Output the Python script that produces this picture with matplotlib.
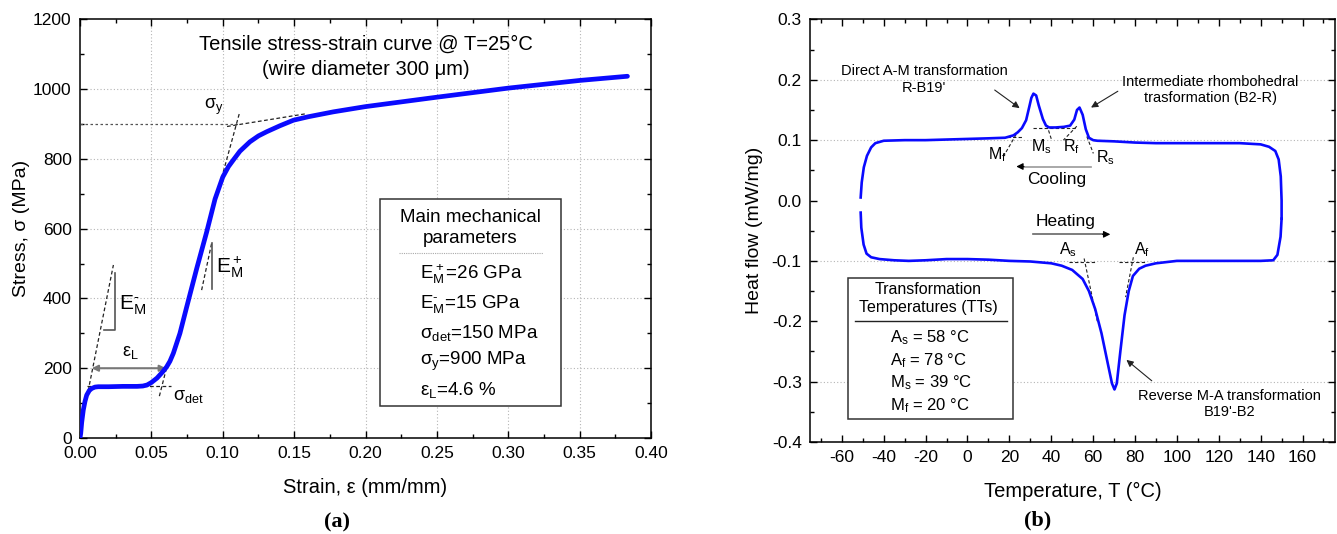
import matplotlib
matplotlib.use("Agg")
import matplotlib.pyplot as plt
from matplotlib.ticker import MultipleLocator, FuncFormatter
from matplotlib.patches import Rectangle

plt.rcParams['font.family'] = ['Liberation Sans', 'DejaVu Sans']
plt.rcParams['mathtext.default'] = 'regular'
plt.rcParams['axes.unicode_minus'] = False

# (a) tensile stress-strain curve
strain = [0, 0.0005, 0.0012, 0.0023, 0.0035, 0.0047, 0.0065, 0.0082, 0.0105, 0.0128,
          0.02, 0.03, 0.04, 0.044, 0.047, 0.05, 0.054, 0.058, 0.0607, 0.063, 0.0654,
          0.07, 0.0747, 0.0817, 0.0887, 0.0946, 0.1, 0.104, 0.1074, 0.112, 0.119, 0.125,
          0.1308, 0.14, 0.1495, 0.16, 0.1775, 0.2, 0.25, 0.3, 0.35, 0.3835]
stress = [0, 13, 45, 80, 105, 123, 136, 142, 146, 147,
          147, 148, 148, 149, 152, 159, 172, 190, 204, 220, 243,
          300, 375, 485, 590, 685, 748, 778, 797, 822, 849, 866,
          878, 895, 911, 921, 935, 950, 977, 1003, 1025, 1037]

# (b) DSC heat flow, cooling branch (150 -> -51) and heating branch (-51 -> 150)
t_cool = [150, 150, 149.6, 148.6, 147, 144, 140, 130, 110, 90, 80, 70, 62, 60, 58, 56.5,
          55, 53.5, 52.3, 51, 49, 46, 42, 39, 37.5, 36, 34, 32.8, 31.5, 30.5, 29.5, 28,
          26, 24, 22, 18, 10, 0, -10, -20, -30, -40, -44, -46, -48, -49.5, -50.5, -51]
hf_cool = [-0.03, 0.0, 0.04, 0.068, 0.082, 0.089, 0.093, 0.095, 0.095, 0.095, 0.096, 0.098,
           0.099, 0.1, 0.104, 0.118, 0.142, 0.154, 0.15, 0.134, 0.124, 0.122, 0.121, 0.121,
           0.124, 0.135, 0.158, 0.174, 0.177, 0.17, 0.155, 0.133, 0.12, 0.113, 0.108, 0.104,
           0.103, 0.102, 0.101, 0.1, 0.1, 0.099, 0.095, 0.088, 0.074, 0.055, 0.03, 0.005]
t_heat = [-51, -50.7, -49.6, -48.2, -46, -42, -35, -28, -20, -10, 0, 10, 20, 30, 40, 45,
          50, 55, 58, 61, 64, 67, 69, 70.2, 71.3, 73, 75, 77, 79, 82, 85, 90, 100, 120,
          140, 146, 148, 149.5, 150]
hf_heat = [-0.02, -0.045, -0.073, -0.088, -0.094, -0.097, -0.099, -0.1, -0.099, -0.097,
           -0.097, -0.098, -0.1, -0.101, -0.104, -0.108, -0.115, -0.13, -0.15, -0.18, -0.22,
           -0.27, -0.303, -0.313, -0.303, -0.25, -0.19, -0.15, -0.125, -0.113, -0.108, -0.104,
           -0.1, -0.1, -0.1, -0.099, -0.09, -0.06, -0.03]

tts_labels = ['A$_s$ = 58 °C', 'A$_f$ = 78 °C', 'M$_s$ = 39 °C', 'M$_f$ = 20 °C']
mech_labels = ['E$_M^+$=26 GPa', 'E$_M^{\u2010}$=15 GPa', 'σ$_{det}$=150 MPa',
               'σ$_y$=900 MPa', 'ε$_L$=4.6 %']

blue = '#0a0aff'
W, H = 1337, 534
fig = plt.figure(figsize=(W / 100, H / 100), dpi=100)
ax1 = fig.add_axes([80 / W, 1 - 438 / H, (651 - 80) / W, (438 - 19.4) / H])
ax2 = fig.add_axes([810 / W, 1 - 442 / H, (1335 - 810) / W, (442 - 19.4) / H])


def style(ax, fs):
    ax.tick_params(which='both', direction='in', top=True, right=True, labelsize=fs, pad=6)
    ax.tick_params(which='major', length=5, width=1)
    ax.tick_params(which='minor', length=3, width=1)
    for s in ax.spines.values():
        s.set_linewidth(1.1)


grid_kw = dict(color='#b5b5b5', lw=0.8, ls=(0, (1, 2)), zorder=0)

# ---------------- (a) ----------------
ax1.set_xlim(0, 0.4)
ax1.set_ylim(0, 1200)
ax1.xaxis.set_major_locator(MultipleLocator(0.05))
ax1.xaxis.set_minor_locator(MultipleLocator(0.025))
ax1.yaxis.set_major_locator(MultipleLocator(200))
ax1.yaxis.set_minor_locator(MultipleLocator(100))
ax1.xaxis.set_major_formatter(FuncFormatter(lambda v, p: f'{v:.2f}'))
style(ax1, 12.5)
for v in [0.05, 0.1, 0.15, 0.2, 0.25, 0.3, 0.35]:
    ax1.axvline(v, **grid_kw)
for v in [200, 400, 600, 800, 1000]:
    ax1.axhline(v, **grid_kw)

dash = dict(color='#222222', lw=0.9, ls=(0, (3, 2)), zorder=3)
ax1.plot([0.0, 0.112], [900, 900], color='#555555', lw=0.9, ls=(0, (2, 2)), zorder=3)
ax1.plot([0.103, 0.159], [893, 930], **dash)
ax1.plot([0.0969, 0.1116], [711, 930], **dash)
ax1.plot([0.005, 0.064], [150, 150], **dash)
ax1.plot([0.004, 0.0234], [100, 496], **dash)
ax1.plot([0.0556, 0.0615], [120, 215], **dash)
ax1.plot([0.0852, 0.0922], [424, 558], **dash)
ax1.plot([0.0245, 0.0245, 0.017], [472, 311, 311], color='#555555', lw=1.2, zorder=3)
ax1.plot([0.0922, 0.0922], [558, 426], color='#555555', lw=1.2, zorder=3)
ax1.annotate('', xy=(0.0082, 200), xytext=(0.0602, 200),
             arrowprops=dict(arrowstyle='<|-|>', color='#777777', lw=1.5,
                             mutation_scale=9, shrinkA=0, shrinkB=0), zorder=3)

ax1.plot(strain, stress, color=blue, lw=3.4, zorder=4, solid_capstyle='round',
         solid_joinstyle='round')

ax1.text(0.2, 1129, 'Tensile stress-strain curve @ T=25°C', ha='center', va='center', fontsize=14.5)
ax1.text(0.2, 1055, '(wire diameter 300 μm)', ha='center', va='center', fontsize=14.5)
ax1.text(0.0275, 380, 'E$_M^{\u2010}$', fontsize=15, ha='left', va='center')
ax1.text(0.0955, 490, 'E$_M^+$', fontsize=15, ha='left', va='center')
ax1.text(0.035, 245, 'ε$_L$', fontsize=13, ha='center', va='center')
ax1.text(0.065, 118, 'σ$_{det}$', fontsize=13, ha='left', va='center')
ax1.text(0.094, 948, 'σ$_y$', fontsize=13, ha='center', va='center')

ax1.add_patch(Rectangle((0.21, 92), 0.127, 593, facecolor='white', edgecolor='#333333',
                        lw=1.1, zorder=5))
ax1.text(0.2732, 603, 'Main mechanical\nparameters', ha='center', va='center',
         fontsize=13.5, linespacing=1.3, zorder=6)
ax1.plot([0.2235, 0.324], [529, 529], color='#aaaaaa', lw=0.8, ls=(0, (1, 1)), zorder=6)
for lab, yv in zip(mech_labels, [470, 385, 302, 220, 139]):
    ax1.text(0.238, yv, lab, ha='left', va='center', fontsize=13.5, zorder=6)

ax1.set_xlabel('Strain, ε (mm/mm)', fontsize=14.5, labelpad=12)
ax1.set_ylabel('Stress, σ (MPa)', fontsize=14, labelpad=2)

# ---------------- (b) ----------------
ax2.set_xlim(-75.2, 175.5)
ax2.set_ylim(-0.4, 0.3)
ax2.xaxis.set_major_locator(MultipleLocator(20))
ax2.xaxis.set_minor_locator(MultipleLocator(10))
ax2.yaxis.set_major_locator(MultipleLocator(0.1))
ax2.yaxis.set_minor_locator(MultipleLocator(0.05))
ax2.xaxis.set_major_formatter(FuncFormatter(lambda v, p: f'{v:.0f}'))
ax2.yaxis.set_major_formatter(FuncFormatter(lambda v, p: f'{v:.1f}' if abs(v) > 1e-9 else '0.0'))
style(ax2, 12.5)
for v in [0.2, 0.1, -0.1, -0.3]:
    ax2.axhline(v, **grid_kw)

dash2 = dict(color='#222222', lw=0.8, ls=(0, (3, 2)), zorder=3)
ax2.plot([18.7, 26.7], [0.1046, 0.1046], **dash2)
ax2.plot([31.3, 52.2], [0.1195, 0.1195], **dash2)
ax2.plot([59.8, 63.5], [0.1, 0.1], **dash2)
ax2.plot([17.1, 23.5], [0.0725, 0.111], **dash2)
ax2.plot([37.9, 40.2], [0.125, 0.1], **dash2)
ax2.plot([52.2, 45.8], [0.123, 0.1], **dash2)
ax2.plot([57.0, 60.1], [0.106, 0.078], **dash2)
ax2.plot([48.4, 61.3], [-0.1013, -0.1013], **dash2)
ax2.plot([72.4, 85.3], [-0.1013, -0.1013], **dash2)
ax2.plot([55.7, 62.0], [-0.096, -0.2], **dash2)
ax2.plot([79.2, 75.5], [-0.094, -0.16], **dash2)

ax2.plot(t_cool, hf_cool, color=blue, lw=1.9, zorder=4, solid_joinstyle='round')
ax2.plot(t_heat, hf_heat, color=blue, lw=1.9, zorder=4, solid_joinstyle='round')

ax2.text(14.1, 0.0757, 'M$_f$', ha='center', va='center', fontsize=11.5)
ax2.text(35.5, 0.0898, 'M$_s$', ha='center', va='center', fontsize=11.5)
ax2.text(49.8, 0.0898, 'R$_f$', ha='center', va='center', fontsize=11.5)
ax2.text(65.7, 0.0712, 'R$_s$', ha='center', va='center', fontsize=11.5)
ax2.text(48.2, -0.082, 'A$_s$', ha='center', va='center', fontsize=11.5)
ax2.text(83.5, -0.082, 'A$_f$', ha='center', va='center', fontsize=11.5)

ax2.plot([59, 26], [0.0563, 0.0563], color='#999999', lw=1.2, zorder=3)
ax2.annotate('', xy=(23.3, 0.0563), xytext=(27, 0.0563),
             arrowprops=dict(arrowstyle='-|>', color='black', lw=0.8, mutation_scale=10,
                             shrinkA=0, shrinkB=0))
ax2.text(42.7, 0.034, 'Cooling', ha='center', va='center', fontsize=12.5)
ax2.plot([31.4, 65.5], [-0.056, -0.056], color='#666666', lw=1.2, zorder=3)
ax2.annotate('', xy=(68.2, -0.056), xytext=(64.5, -0.056),
             arrowprops=dict(arrowstyle='-|>', color='black', lw=0.8, mutation_scale=10,
                             shrinkA=0, shrinkB=0))
ax2.text(46.7, -0.034, 'Heating', ha='center', va='center', fontsize=12.5)

arr = dict(arrowstyle='-|>', color='#222222', lw=0.8, mutation_scale=10, shrinkA=0, shrinkB=0)
ax2.text(-20.6, 0.2, "Direct A-M transformation\nR-B19'", ha='center', va='center',
         fontsize=10.5, linespacing=1.25)
ax2.annotate('', xy=(24.9, 0.153), xytext=(13, 0.183), arrowprops=arr)
ax2.text(116, 0.183, 'Intermediate rhombohedral\ntrasformation (B2-R)', ha='center',
         va='center', fontsize=10.5, linespacing=1.25)
ax2.annotate('', xy=(59, 0.154), xytext=(71.8, 0.181), arrowprops=arr)
ax2.text(125.3, -0.337, "Reverse M-A transformation\nB19'-B2", ha='center', va='center',
         fontsize=10.5, linespacing=1.25)
ax2.annotate('', xy=(75.9, -0.264), xytext=(88, -0.2986), arrowprops=arr)

ax2.add_patch(Rectangle((-57, -0.3617), 78.8, 0.2337, facecolor='white', edgecolor='#333333',
                        lw=1.1, zorder=5))
ax2.text(-18.6, -0.1625, 'Transformation\nTemperatures (TTs)', ha='center', va='center',
         fontsize=11.5, linespacing=1.3, zorder=6)
ax2.plot([-53.9, 18.8], [-0.2, -0.2], color='#222222', lw=1.0, zorder=6)
for lab, yv in zip(tts_labels, [-0.227, -0.265, -0.3025, -0.34]):
    ax2.text(-37, yv, lab, ha='left', va='center', fontsize=12, zorder=6)

ax2.set_xlabel('Temperature, T (°C)', fontsize=14.5, labelpad=12)
ax2.set_ylabel('Heat flow (mW/mg)', fontsize=14, labelpad=6)

# panel letters
fig.text(337 / W, 1 - 522 / H, '(a)', ha='center', va='center', fontsize=16,
         family='Liberation Serif', fontweight='bold')
fig.text(1038 / W, 1 - 520 / H, '(b)', ha='center', va='center', fontsize=16,
         family='Liberation Serif', fontweight='bold')

fig.savefig('out.png', dpi=100)
